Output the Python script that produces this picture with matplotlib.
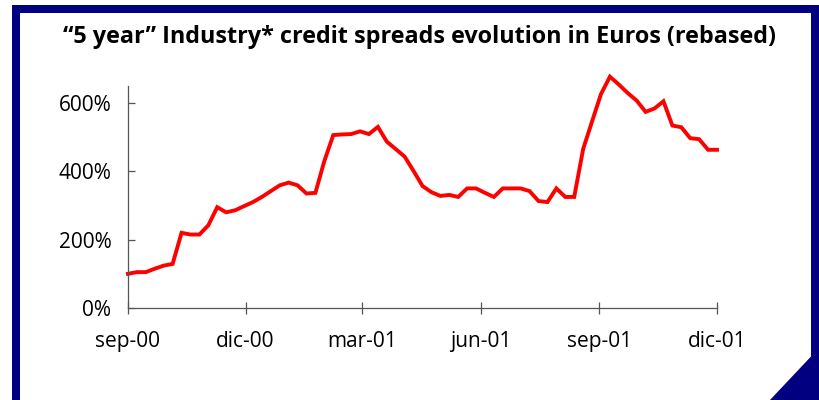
import matplotlib.pyplot as plt
import matplotlib.dates as mdates
from matplotlib.patches import Rectangle, Polygon
import pandas as pd

plt.rcParams['font.family'] = ['Open Sans', 'DejaVu Sans']

# weekly rebased spread, sep-00 .. dic-01 (%)
spread = [100, 105, 105, 115, 124, 129, 220, 215, 215, 242, 295, 280, 286,
          298, 310, 325, 342, 359, 367, 359, 335, 337, 430, 506, 508,
          509, 517, 509, 530, 487, 465, 443, 401, 357, 339, 328, 331, 325,
          350, 350, 337, 325, 350, 350, 350, 342, 313, 310, 350, 325, 325,
          465, 546, 626, 677, 654, 629, 607, 574, 584, 605, 534, 529, 497,
          494, 463, 463]
dates = pd.date_range('2000-09-01', '2001-12-01', periods=len(spread))
tick_dates = pd.to_datetime(['2000-09-01', '2000-12-01', '2001-03-01',
                             '2001-06-01', '2001-09-01', '2001-12-01'])
tick_labels = ['sep-00', 'dic-00', 'mar-01', 'jun-01', 'sep-01', 'dic-01']
y_ticks = [0, 200, 400, 600]

W, H = 819, 400
fig = plt.figure(figsize=(W / 100, H / 100), dpi=100)
navy = '#000080'

# frame around the chart
def px_rect(x0, y0, x1, y1):
    return Rectangle((x0 / W, 1 - y1 / H), (x1 - x0) / W, (y1 - y0) / H,
                     transform=fig.transFigure, color=navy, lw=0)

fig.patches.append(px_rect(12, 5, 20, 400))
fig.patches.append(px_rect(12, 5, 819, 13))
fig.patches.append(px_rect(811, 5, 819, 400))
fig.patches.append(Polygon([(819 / W, 1 - 348 / H), (770 / W, 0), (1, 0)],
                           closed=True, transform=fig.transFigure,
                           color=navy, lw=0))

fig.text(420 / W, 1 - 37 / H,
         '\u201c5 year\u201d Industry* credit spreads evolution in Euros (rebased)',
         ha='center', va='center', fontsize=16.8, fontweight='bold')

ax = fig.add_axes([128 / W, 1 - 308 / H, (717 - 128) / W, (308 - 85.9) / H])
ax.plot(dates, spread, color='#ff0000', lw=2.8, clip_on=False,
        solid_joinstyle='miter')

ax.set_xlim(tick_dates[0], tick_dates[-1])
ax.set_ylim(0, 650)
ax.set_xticks(tick_dates)
ax.set_xticklabels(tick_labels)
ax.set_yticks(y_ticks)
ax.set_yticklabels([f'{v}%' for v in y_ticks])

for s in ['top', 'right']:
    ax.spines[s].set_visible(False)
for s in ['left', 'bottom']:
    ax.spines[s].set_color('#555555')
    ax.spines[s].set_linewidth(0.9)

ax.tick_params(axis='x', direction='inout', length=9, width=0.9,
               color='#555555', labelsize=15, pad=12)
ax.tick_params(axis='y', direction='in', length=5, width=0.9,
               color='#555555', labelsize=15, pad=12)

fig.savefig('out.png', dpi=100)
